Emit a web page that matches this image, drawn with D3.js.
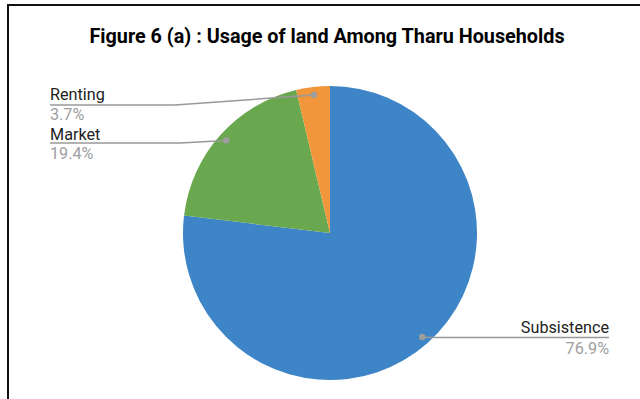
<!DOCTYPE html>
<html><head><meta charset="utf-8">
<script src="https://cdn.jsdelivr.net/npm/d3@7"></script>
<style>body{margin:0;background:#fff;}svg{display:block;}</style>
</head><body>
<svg id="c" width="640" height="399"></svg>
<script>
const categories = ["Subsistence", "Market", "Renting"];
const values = [76.9, 19.4, 3.7];
const colors = ["#3d85c6", "#6aa84f", "#f1963a"];
const labelText = ["76.9%", "19.4%", "3.7%"];

const svg = d3.select("#c");
const W = 640, H = 399;
svg.append("rect").attr("width", W).attr("height", H).attr("fill", "#fff");
// frame
svg.append("path").attr("d", "M8,400 V5 H641").attr("fill", "none").attr("stroke", "#111").attr("stroke-width", 2);

svg.append("text").attr("x", 327).attr("y", 43).attr("text-anchor", "middle")
  .attr("font-family", "Roboto").attr("font-weight", "bold").attr("font-size", 19.8).attr("fill", "#000")
  .text("Figure 6 (a) : Usage of land Among Tharu Households");

const cx = 330, cy = 233, R = 147;
const g = svg.append("g").attr("transform", `translate(${cx},${cy})`);
const pie = d3.pie().sort(null).value(d => d)(values);
const arc = d3.arc().innerRadius(0).outerRadius(R);
g.selectAll("path.s").data(pie).join("path").attr("class", "s")
  .attr("d", arc).attr("fill", (d, i) => colors[i]);

const dotArc = d3.arc().innerRadius(139).outerRadius(139);
const layout = [
  {lineY: 337.5, x0: 609, anchor: "end", elbow: 430, ty: 5, py: 16},
  {lineY: 143, x0: 50, anchor: "start", elbow: 180, ty: 3, py: 16},
  {lineY: 105, x0: 50, anchor: "start", elbow: 175, ty: 5, py: 14.5}
];
pie.forEach((d, i) => {
  const [dx, dy] = dotArc.centroid(d);
  const px = cx + dx, py = cy + dy;
  const L = layout[i];
  const pts = [[px, py], [L.elbow, L.lineY], [L.x0, L.lineY]];
  svg.append("path").attr("d", d3.line()(pts)).attr("fill", "none")
    .attr("stroke", "#999").attr("stroke-width", 1.5);
  svg.append("circle").attr("cx", px).attr("cy", py).attr("r", 3.2).attr("fill", "#9e9e9e");
  svg.append("text").attr("x", L.x0).attr("y", L.lineY - L.ty).attr("text-anchor", L.anchor)
    .attr("font-family", "Roboto").attr("font-size", 16.2).attr("fill", "#222").text(categories[i]);
  svg.append("text").attr("x", L.x0).attr("y", L.lineY + L.py).attr("text-anchor", L.anchor)
    .attr("font-family", "Roboto").attr("font-size", 16.2).attr("fill", "#9e9e9e").text(labelText[i]);
});
</script>
</body></html>
